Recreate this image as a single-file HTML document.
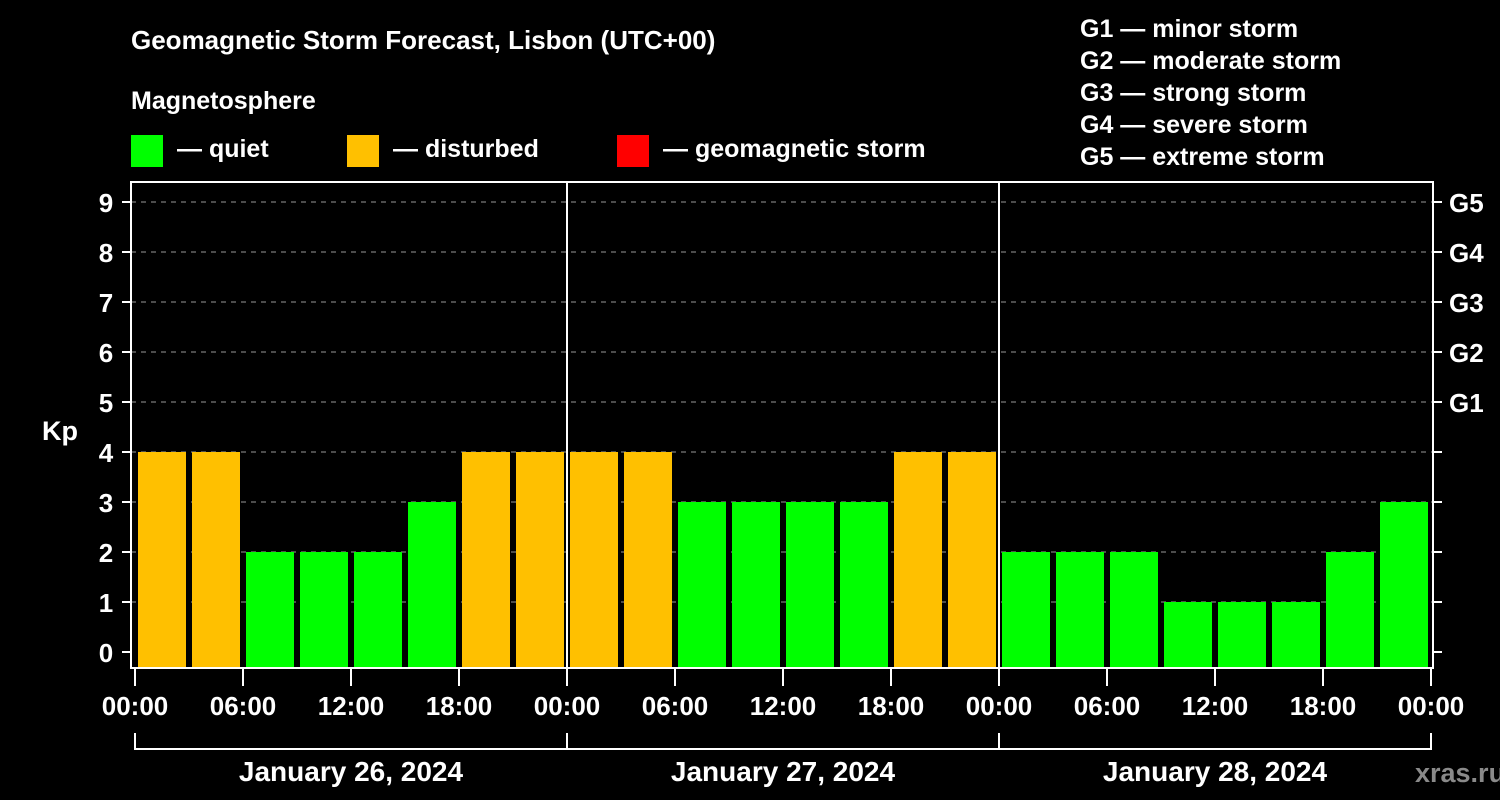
<!DOCTYPE html>
<html><head><meta charset="utf-8"><style>
html,body{margin:0;padding:0;background:#000;width:1500px;height:800px;overflow:hidden}
svg text{font-family:"Liberation Sans",sans-serif;font-weight:bold;fill:#fff}
</style></head><body>
<svg id="chart" width="1500" height="800">
<text x="131" y="49" font-size="26">Geomagnetic Storm Forecast, Lisbon (UTC+00)</text>
<text x="131" y="109" font-size="25">Magnetosphere</text>
<g><rect x="131" y="135" width="32" height="32" fill="#00ff00"/><text x="177" y="157" font-size="25">— quiet</text></g>
<g><rect x="347" y="135" width="32" height="32" fill="#ffc000"/><text x="393" y="157" font-size="25">— disturbed</text></g>
<g><rect x="617" y="135" width="32" height="32" fill="#ff0000"/><text x="663" y="157" font-size="25">— geomagnetic storm</text></g>
<g font-size="25">
<text x="1080" y="37" font-size="25">G1 — minor storm</text>
<text x="1080" y="69" font-size="25">G2 — moderate storm</text>
<text x="1080" y="101" font-size="25">G3 — strong storm</text>
<text x="1080" y="133" font-size="25">G4 — severe storm</text>
<text x="1080" y="165" font-size="25">G5 — extreme storm</text>
</g>
<text x="42" y="440" font-size="27">Kp</text>
<text x="1415" y="782" font-size="27" fill="#888" style="fill:#8a8a8a">xras.ru</text>
<g id="plot"></g>
</svg>
<script>
const kpValues=[4,4,2,2,2,3,4,4, 4,4,3,3,3,3,4,4, 2,2,2,1,1,1,2,3];
const yTicks=[0,1,2,3,4,5,6,7,8,9];
const gLabels=["G1","G2","G3","G4","G5"];
const xTickLabels=["00:00","06:00","12:00","18:00","00:00","06:00","12:00","18:00","00:00","06:00","12:00","18:00","00:00"];
const dayLabels=["January 26, 2024","January 27, 2024","January 28, 2024"];
const NS="http://www.w3.org/2000/svg";
const g=document.getElementById('plot');
const L=131,R=1433,T=182,B=668,X0=135,DAY=432;
const y=v=>652-50*v;
const x=h=>X0+h*DAY/24;
function mk(t,a){const e=document.createElementNS(NS,t);for(const k in a)e.setAttribute(k,a[k]);g.appendChild(e);return e;}
yTicks.forEach(v=>{
 if(v>0){const l=mk('line',{x1:L,x2:R,y1:y(v),y2:y(v),stroke:'#999','stroke-dasharray':'5,5','stroke-width':1});
 
 }
 const t=mk('line',{x1:122,x2:L,y1:y(v),y2:y(v),stroke:'#fff','stroke-width':2});
 
 
 const t2=mk('line',{x1:R,x2:1442,y1:y(v),y2:y(v),stroke:'#fff','stroke-width':2});
 
 
 const tx=mk('text',{x:106,y:y(v)+10,'font-size':26,'text-anchor':'middle'});tx.textContent=v;
 
 
});
gLabels.forEach((s,i)=>{const tx=mk('text',{x:1449,y:y(5+i)+10,'font-size':26});tx.textContent=s;
 
 });
kpValues.forEach((v,i)=>{
 const c=v>=5?'#ff0000':v>=4?'#ffc000':'#00ff00';
 const r=mk('rect',{x:x(i*3)+3,width:48,y:y(v),height:B-y(v),fill:c});
 
 
});
const fr=mk('rect',{x:L,y:T,width:R-L,height:B-T,fill:'none',stroke:'#fff','stroke-width':2});


[1,2].forEach(d=>{const l=mk('line',{x1:x(d*24),x2:x(d*24),y1:T,y2:B,stroke:'#fff','stroke-width':2});
 
 });
xTickLabels.forEach((s,i)=>{
 const l=mk('line',{x1:x(i*6),x2:x(i*6),y1:B,y2:686,stroke:'#fff','stroke-width':2});
 
 
 const t=mk('text',{x:x(i*6),y:715,'font-size':26,'text-anchor':'middle'});t.textContent=s;
 
 
});
const br=mk('path',{d:`M${x(0)},733 V749 H${x(72)} V733`,fill:'none',stroke:'#fff','stroke-width':2});


dayLabels.forEach((s,d)=>{
 const l=mk('line',{x1:x(d*24),x2:x(d*24),y1:733,y2:749,stroke:'#fff','stroke-width':2});
 
 
 const t=mk('text',{x:x(d*24+12),y:781,'font-size':28,'text-anchor':'middle'});t.textContent=s;
 
 
});
</script>
</body></html>
